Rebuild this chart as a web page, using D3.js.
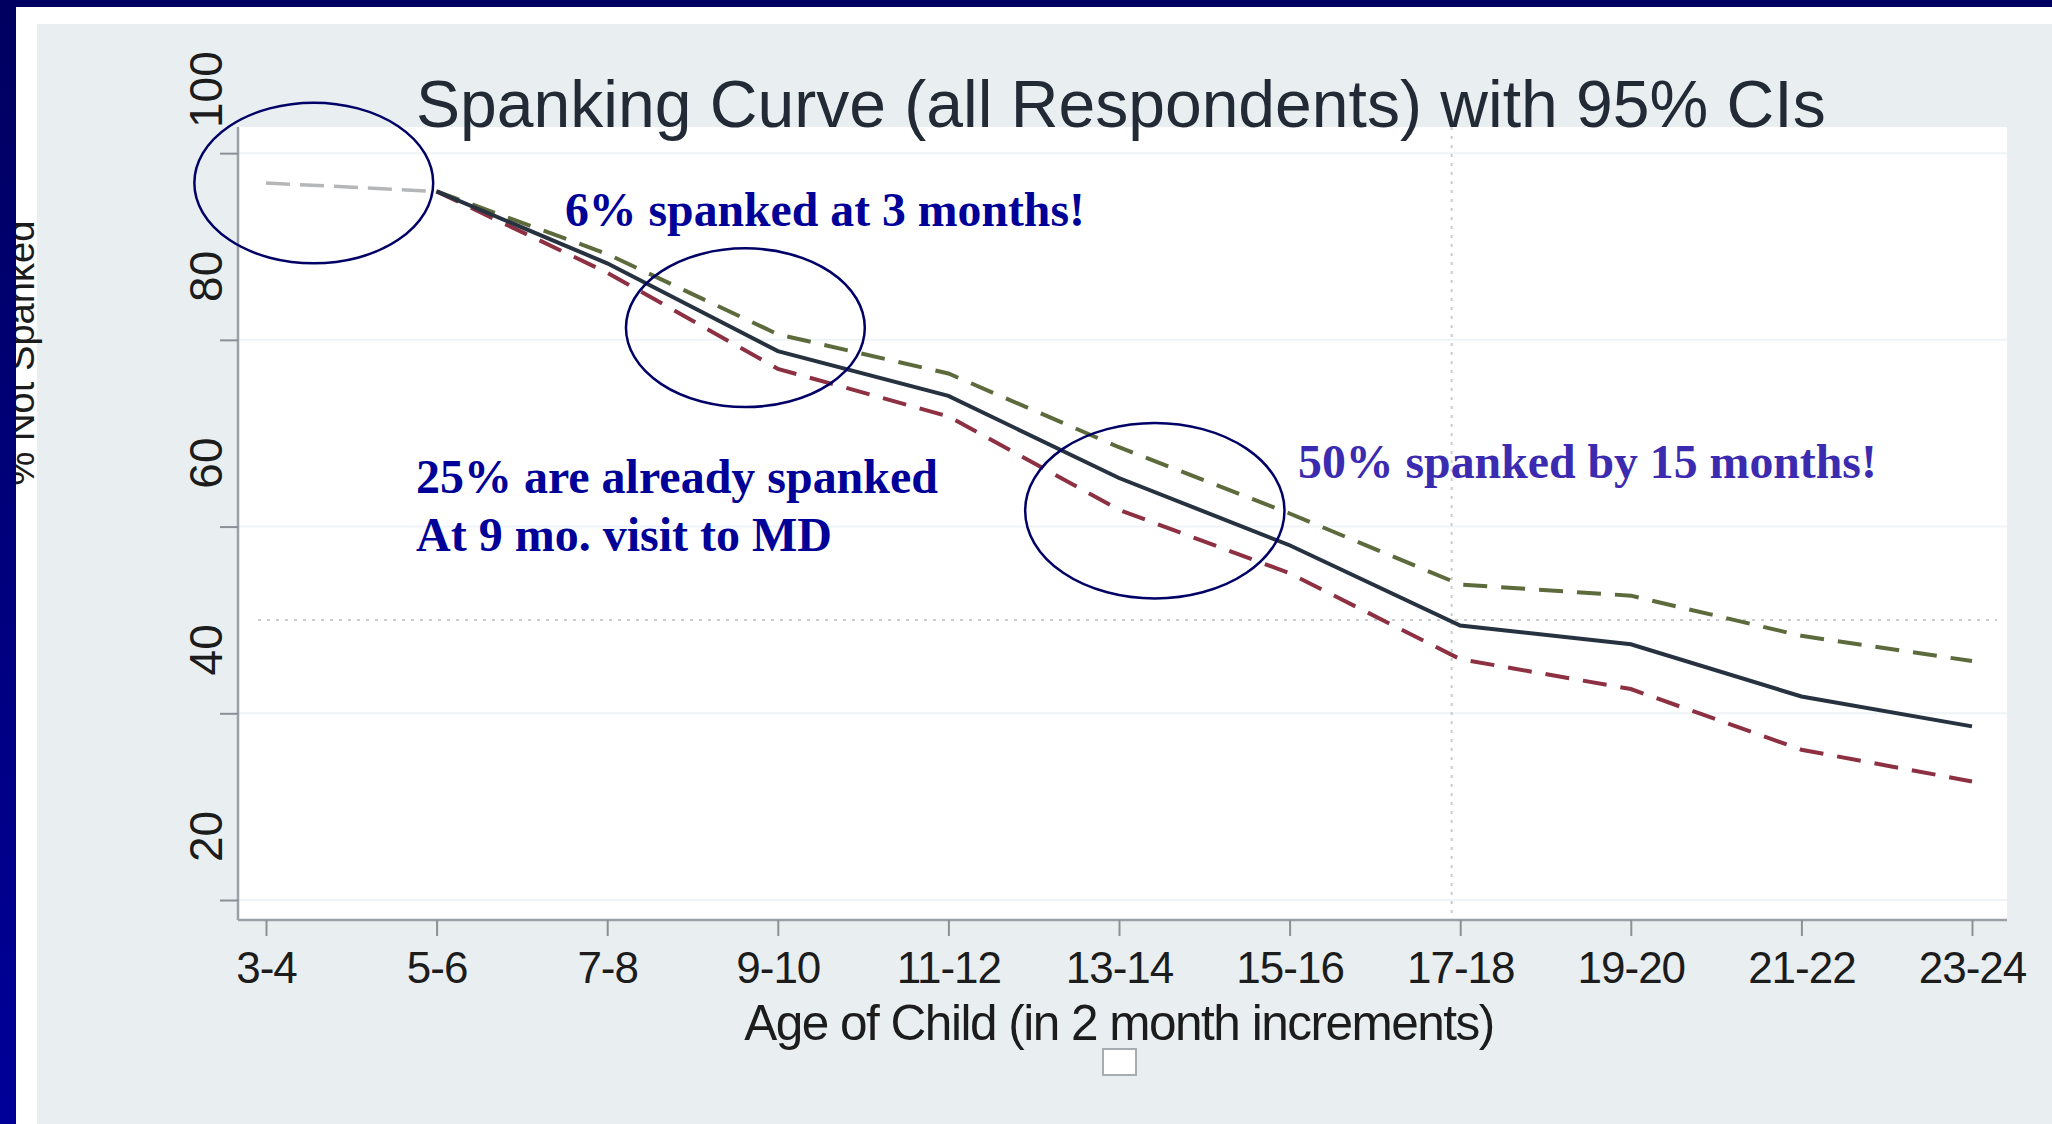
<!DOCTYPE html>
<html>
<head>
<meta charset="utf-8">
<script src="https://cdn.jsdelivr.net/npm/d3@7"></script>
<style>
  body { margin: 0; background: #ffffff; }
  svg { display: block; }
</style>
</head>
<body>
<script>
// Chart data
var ages = ["3-4", "5-6", "7-8", "9-10", "11-12", "13-14", "15-16", "17-18", "19-20", "21-22", "23-24"];
var meanVals  = [96.8, 95.9, 88.2, 78.8, 74.0, 65.2, 58.0, 49.4, 47.4, 41.8, 38.6];
var upperVals = [96.8, 95.9, 89.2, 80.6, 76.4, 68.5, 61.4, 53.8, 52.6, 48.3, 45.6];
var lowerVals = [96.8, 95.9, 87.2, 76.9, 71.8, 61.8, 55.0, 45.8, 42.6, 36.1, 32.7];
var yTicks = [20, 40, 60, 80, 100];
var refValue = 50;      // dotted horizontal line
var refIndex = 6.95;    // dotted vertical line (category index)

// Dimensions
var svgWidth = 2052;
var svgHeight = 1124;
var plot = { left: 238, top: 127, right: 2007, bottom: 920 };

var svg = d3.select("body")
  .append("svg")
  .attr("width", svgWidth)
  .attr("height", svgHeight);

// Scales
var xScale = d3.scaleLinear().domain([0, 10]).range([266, 1972]);
var yScale = d3.scaleLinear().domain([17.86, 102.8]).range([plot.bottom, plot.top]);

// Backgrounds
svg.append("rect").attr("width", svgWidth).attr("height", svgHeight).attr("fill", "#ffffff");
svg.append("rect")
  .attr("x", 37).attr("y", 24)
  .attr("width", svgWidth - 37).attr("height", svgHeight - 24)
  .attr("fill", "#e9eff1");
svg.append("rect")
  .attr("x", plot.left).attr("y", plot.top)
  .attr("width", plot.right - plot.left).attr("height", plot.bottom - plot.top)
  .attr("fill", "#ffffff");

// Faint gridlines
svg.append("g").selectAll("line")
  .data(yTicks)
  .enter().append("line")
  .attr("x1", plot.left).attr("x2", plot.right)
  .attr("y1", d => yScale(d)).attr("y2", d => yScale(d))
  .attr("stroke", "#eff3f5").attr("stroke-width", 2);

// Dotted reference lines
svg.append("line")
  .attr("x1", plot.left + 20).attr("x2", plot.right - 10)
  .attr("y1", yScale(refValue)).attr("y2", yScale(refValue))
  .attr("stroke", "#c9ccd0").attr("stroke-width", 2)
  .attr("stroke-dasharray", "3,6");
svg.append("line")
  .attr("x1", xScale(refIndex)).attr("x2", xScale(refIndex))
  .attr("y1", plot.top).attr("y2", plot.bottom)
  .attr("stroke", "#c9ccd0").attr("stroke-width", 2)
  .attr("stroke-dasharray", "3,6");

// Axes
var bottomAxis = d3.axisBottom(xScale)
  .tickValues(d3.range(ages.length))
  .tickFormat(i => ages[i])
  .tickSize(16)
  .tickSizeOuter(0);

var xAxisG = svg.append("g")
  .attr("transform", `translate(0, ${plot.bottom})`)
  .call(bottomAxis);
xAxisG.select(".domain")
  .attr("d", `M${plot.left},0H${plot.right}`)
  .attr("stroke", "#9aa0a6").attr("stroke-width", 2.5);
xAxisG.selectAll(".tick line").attr("stroke", "#8a9096").attr("stroke-width", 2);
xAxisG.selectAll(".tick text")
  .attr("y", 48).attr("dy", "0.35em")
  .attr("font-family", "Liberation Sans, Arial, sans-serif")
  .attr("font-size", 44)
  .attr("fill", "#1c1c1c")
  .attr("letter-spacing", -1);

var leftAxis = d3.axisLeft(yScale)
  .tickValues(yTicks)
  .tickSize(18)
  .tickSizeOuter(0);

var yAxisG = svg.append("g")
  .attr("transform", `translate(${plot.left}, 0)`)
  .call(leftAxis);
yAxisG.select(".domain")
  .attr("d", `M0,${plot.top}V${plot.bottom}`)
  .attr("stroke", "#9aa0a6").attr("stroke-width", 2.5);
yAxisG.selectAll(".tick line").attr("stroke", "#8a9096").attr("stroke-width", 2);
yAxisG.selectAll(".tick text")
  .attr("x", null).attr("dy", null)
  .attr("transform", "translate(-32, -64) rotate(-90)")
  .attr("text-anchor", "middle")
  .attr("dominant-baseline", "central")
  .attr("font-family", "Liberation Sans, Arial, sans-serif")
  .attr("font-size", 46)
  .attr("fill", "#1c1c1c");

// Lines
var line = d3.line()
  .x(d => xScale(d[0]))
  .y(d => yScale(d[1]));

function pts(vals, from) {
  return vals.map((v, i) => [i, v]).slice(from);
}

// first segment (grey, all series overlapping)
svg.append("path")
  .attr("d", line(pts(meanVals, 0).slice(0, 2)))
  .attr("fill", "none")
  .attr("stroke", "#b4b6b8").attr("stroke-width", 3.5)
  .attr("stroke-dasharray", "24,10");

svg.append("path")
  .attr("d", line(pts(upperVals, 1)))
  .attr("fill", "none")
  .attr("stroke", "#5c6a3c").attr("stroke-width", 4)
  .attr("stroke-dasharray", "24,14");

svg.append("path")
  .attr("d", line(pts(lowerVals, 1)))
  .attr("fill", "none")
  .attr("stroke", "#8c3042").attr("stroke-width", 4)
  .attr("stroke-dasharray", "24,14");

svg.append("path")
  .attr("d", line(pts(meanVals, 1)))
  .attr("fill", "none")
  .attr("stroke", "#26323f").attr("stroke-width", 4);

// Fit text to a target width
function fitWidth(sel, target) {
  var w = sel.node().getComputedTextLength();
  var fs = parseFloat(sel.attr("font-size"));
  sel.attr("font-size", fs * target / w);
  return sel;
}

// Title
var title = svg.append("text")
  .attr("x", 416).attr("y", 127)
  .attr("font-family", "Liberation Sans, Arial, sans-serif")
  .attr("font-size", 60)
  .attr("fill", "#222a35")
  .text("Spanking Curve (all Respondents) with 95% CIs");
fitWidth(title, 1410);

// X axis title
var xTitle = svg.append("text")
  .attr("x", 1119).attr("y", 1022)
  .attr("text-anchor", "middle")
  .attr("dominant-baseline", "central")
  .attr("font-family", "Liberation Sans, Arial, sans-serif")
  .attr("font-size", 44)
  .attr("fill", "#1c1c1c")
  .attr("letter-spacing", -1.5)
  .text("Age of Child (in 2 month increments)");
fitWidth(xTitle, 743);

// empty legend box
svg.append("rect")
  .attr("x", 1103).attr("y", 1049)
  .attr("width", 33).attr("height", 26)
  .attr("fill", "#ffffff").attr("stroke", "#a8adb2").attr("stroke-width", 2);

// Y axis title (partly hidden by frame)
var yTitle = svg.append("text")
  .attr("transform", "translate(34, 353) rotate(-90)")
  .attr("text-anchor", "middle")
  .attr("font-family", "Liberation Sans, Arial, sans-serif")
  .attr("font-size", 40)
  .attr("fill", "#1c1c1c")
  .text("% Not Spanked");
fitWidth(yTitle, 265);

// Annotation ellipses in data units
var ellipses = [
  { i: 0.28, v: 96.8, ri: 0.70, rv: 8.6 },
  { i: 2.81, v: 81.3, ri: 0.70, rv: 8.5 },
  { i: 5.21, v: 61.7, ri: 0.76, rv: 9.4 }
];
svg.append("g").selectAll("ellipse")
  .data(ellipses)
  .enter().append("ellipse")
  .attr("cx", d => xScale(d.i))
  .attr("cy", d => yScale(d.v))
  .attr("rx", d => xScale(d.ri) - xScale(0))
  .attr("ry", d => yScale(0) - yScale(d.rv))
  .attr("fill", "none")
  .attr("stroke", "#000066")
  .attr("stroke-width", 2.5);

// Annotation texts
var notes = [
  { text: "6% spanked at 3 months!", x: 565, y: 209, w: 520, color: "#000099" },
  { text: "25% are already spanked", x: 416, y: 476, w: 522, color: "#000099" },
  { text: "At 9 mo. visit to MD", x: 416, y: 534, w: 416, color: "#000099" },
  { text: "50% spanked by 15 months!", x: 1298, y: 461, w: 579, color: "#3b2bb0" }
];
notes.forEach(function(n) {
  var t = svg.append("text")
    .attr("x", n.x).attr("y", n.y)
    .attr("dominant-baseline", "central")
    .attr("font-family", "Liberation Serif, Times New Roman, serif")
    .attr("font-weight", "bold")
    .attr("font-size", 46)
    .attr("fill", n.color)
    .text(n.text);
  fitWidth(t, n.w);
});

// Frame bars
var grad = svg.append("defs").append("linearGradient")
  .attr("id", "leftbar").attr("x1", 0).attr("y1", 0).attr("x2", 0).attr("y2", 1);
grad.append("stop").attr("offset", "0%").attr("stop-color", "#000060");
grad.append("stop").attr("offset", "100%").attr("stop-color", "#000099");

svg.append("rect")
  .attr("x", 0).attr("y", 0)
  .attr("width", 16).attr("height", svgHeight)
  .attr("fill", "url(#leftbar)");
svg.append("rect")
  .attr("x", 0).attr("y", 0)
  .attr("width", svgWidth).attr("height", 7)
  .attr("fill", "#000060");
</script>
</body>
</html>
